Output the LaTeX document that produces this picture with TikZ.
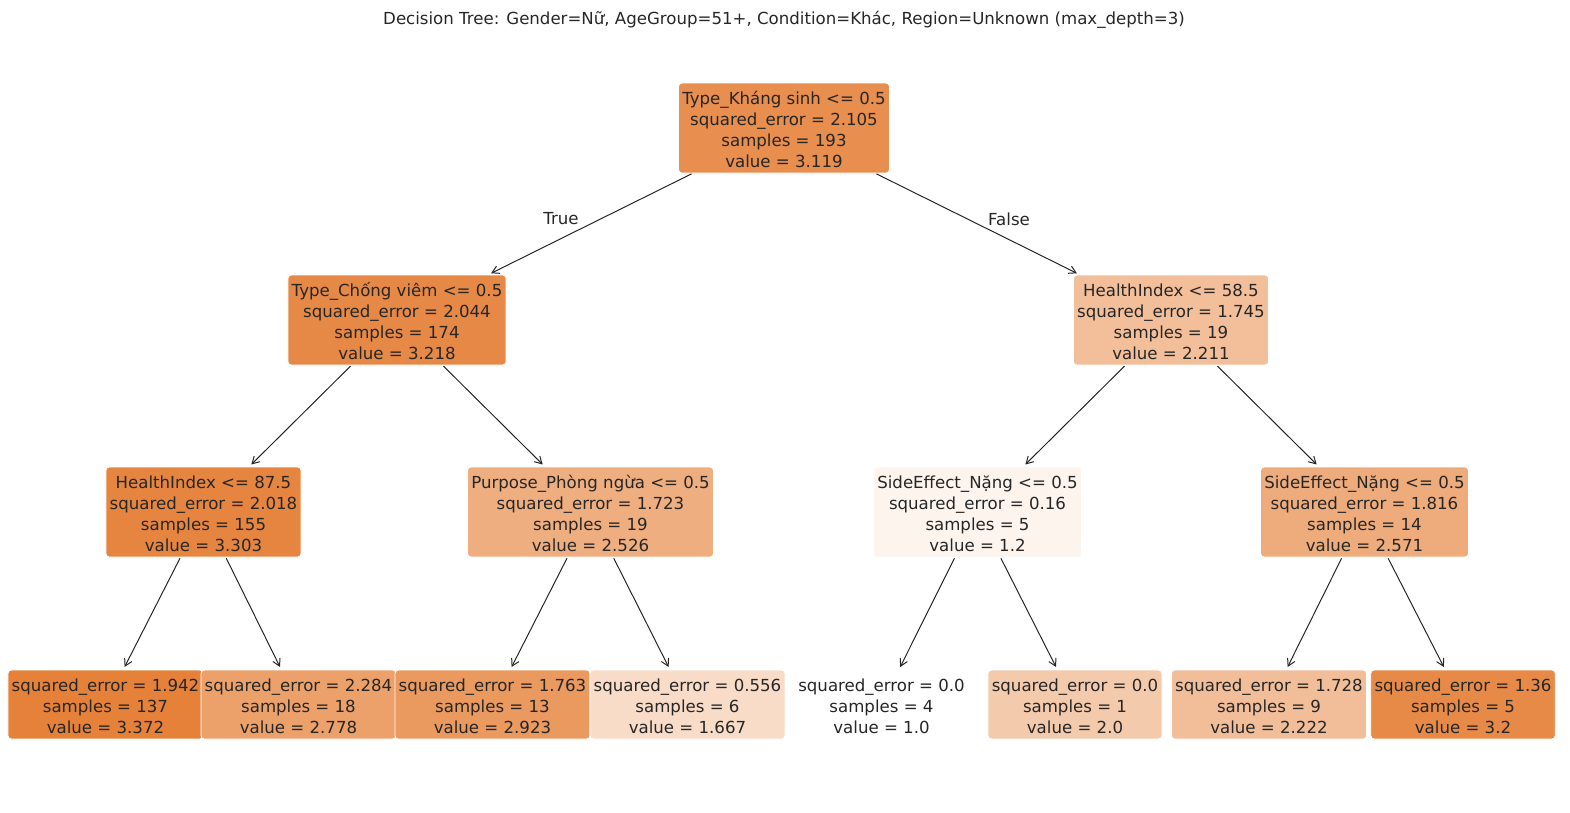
\documentclass[tikz,border=0pt]{standalone}
\usepackage{fontspec}
\setmainfont{DejaVu Sans}
\usetikzlibrary{arrows.meta}

% fills: orange scaled by the node value
\definecolor{inkgray}{RGB}{38,38,38}
\definecolor{cA}{RGB}{232,142,78}   % 3.119
\definecolor{cB}{RGB}{231,137,70}   % 3.218
\definecolor{cC}{RGB}{242,191,154}  % 2.211
\definecolor{cD}{RGB}{230,133,63}   % 3.303
\definecolor{cE}{RGB}{238,174,128}  % 2.526
\definecolor{cF}{RGB}{253,244,238}  % 1.2
\definecolor{cG}{RGB}{238,172,124}  % 2.571
\definecolor{cH}{RGB}{229,129,57}   % 3.372
\definecolor{cI}{RGB}{236,161,107}  % 2.778
\definecolor{cJ}{RGB}{234,153,95}   % 2.923
\definecolor{cK}{RGB}{248,220,199}  % 1.667
\definecolor{cL}{RGB}{255,255,255}  % 1.0
\definecolor{cM}{RGB}{244,202,172}  % 2.0
\definecolor{cN}{RGB}{242,190,153}  % 2.222
\definecolor{cO}{RGB}{231,138,71}   % 3.2

\newcommand\topstrut{\rule{0pt}{17.5pt}}
\newcommand\botstrut{\rule[-2.5pt]{0pt}{2.5pt}}

\tikzset{
  treebox/.style={draw=white, line width=0.8pt, rounded corners=3.5pt,
    align=center, inner xsep=3.8pt, inner ysep=3.5pt, text=inkgray,
    font=\fontsize{16.6}{21}\selectfont},
  edge/.style={draw=inkgray, line width=1pt,
    -{Straight Barb[length=7pt,width=8pt,line width=1pt]},
    shorten >=3pt, shorten <=1pt},
  edgelabel/.style={text=inkgray, font=\fontsize{16.6}{21}\selectfont}
}

\begin{document}
\begin{tikzpicture}[x=1pt,y=-1pt]
\useasboundingbox (0,0) rectangle (1570,812);

\node[text=inkgray, font=\fontsize{16.6}{21}\selectfont] (title) at (784,20)
  {Decision Tree: Gender=Nữ, AgeGroup=51+, Condition=Khác, Region=Unknown (max\_depth=3)};

% depth 0
\node[treebox, fill=cA] (n0) at (784,128)
  {\topstrut Type\_Kháng sinh <= 0.5\\squared\_error = 2.105\\samples = 193\\value = 3.119\botstrut};

% depth 1
\node[treebox, fill=cB] (n1) at (397,320)
  {\topstrut Type\_Chống viêm <= 0.5\\squared\_error = 2.044\\samples = 174\\value = 3.218\botstrut};
\node[treebox, fill=cC] (n2) at (1171,320)
  {\topstrut HealthIndex <= 58.5\\squared\_error = 1.745\\samples = 19\\value = 2.211\botstrut};

% depth 2
\node[treebox, fill=cD] (n3) at (203.5,512)
  {\topstrut HealthIndex <= 87.5\\squared\_error = 2.018\\samples = 155\\value = 3.303\botstrut};
\node[treebox, fill=cE] (n4) at (590.5,512)
  {\topstrut Purpose\_Phòng ngừa <= 0.5\\squared\_error = 1.723\\samples = 19\\value = 2.526\botstrut};
\node[treebox, fill=cF] (n5) at (977.5,512)
  {\topstrut SideEffect\_Nặng <= 0.5\\squared\_error = 0.16\\samples = 5\\value = 1.2\botstrut};
\node[treebox, fill=cG] (n6) at (1364.5,512)
  {\topstrut SideEffect\_Nặng <= 0.5\\squared\_error = 1.816\\samples = 14\\value = 2.571\botstrut};

% leaves
\node[treebox, fill=cH] (l1) at (105.5,704.5)
  {\topstrut squared\_error = 1.942\\samples = 137\\value = 3.372\botstrut};
\node[treebox, fill=cI] (l2) at (298.5,704.5)
  {\topstrut squared\_error = 2.284\\samples = 18\\value = 2.778\botstrut};
\node[treebox, fill=cJ] (l3) at (492.5,704.5)
  {\topstrut squared\_error = 1.763\\samples = 13\\value = 2.923\botstrut};
\node[treebox, fill=cK] (l4) at (687.5,704.5)
  {\topstrut squared\_error = 0.556\\samples = 6\\value = 1.667\botstrut};
\node[treebox, fill=cL] (l5) at (881.5,704.5)
  {\topstrut squared\_error = 0.0\\samples = 4\\value = 1.0\botstrut};
\node[treebox, fill=cM] (l6) at (1075,704.5)
  {\topstrut squared\_error = 0.0\\samples = 1\\value = 2.0\botstrut};
\node[treebox, fill=cN] (l7) at (1269,704.5)
  {\topstrut squared\_error = 1.728\\samples = 9\\value = 2.222\botstrut};
\node[treebox, fill=cO] (l8) at (1463,704.5)
  {\topstrut squared\_error = 1.36\\samples = 5\\value = 3.2\botstrut};

% connectors
\draw[edge] (n0) -- (n1);
\draw[edge] (n0) -- (n2);
\draw[edge] (n1) -- (n3);
\draw[edge] (n1) -- (n4);
\draw[edge] (n2) -- (n5);
\draw[edge] (n2) -- (n6);
\draw[edge] (n3) -- (l1);
\draw[edge] (n3) -- (l2);
\draw[edge] (n4) -- (l3);
\draw[edge] (n4) -- (l4);
\draw[edge] (n5) -- (l5);
\draw[edge] (n5) -- (l6);
\draw[edge] (n6) -- (l7);
\draw[edge] (n6) -- (l8);

% branch labels
\node[edgelabel] (ltrue) at (561,219) {True};
\node[edgelabel] (lfalse) at (1009,219) {False};
\end{tikzpicture}
\end{document}
